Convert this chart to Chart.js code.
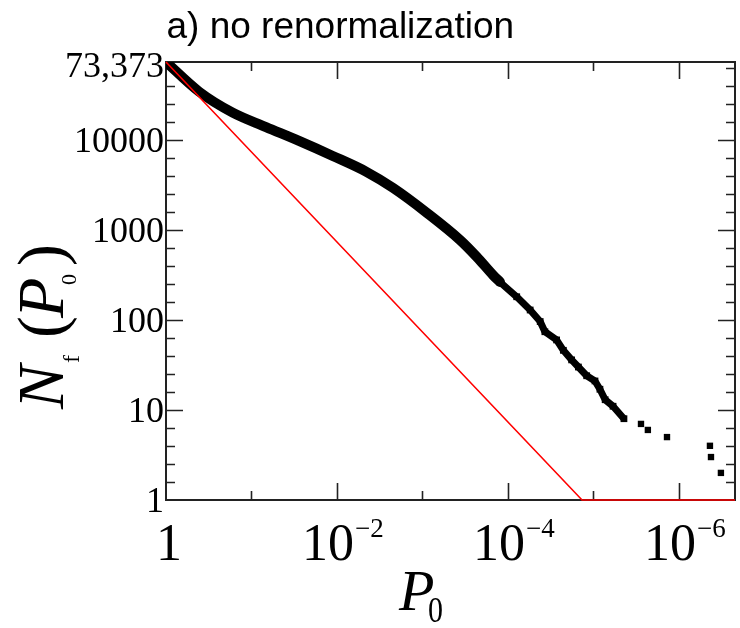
<!DOCTYPE html>
<html>
<head>
<meta charset="utf-8">
<title>N_f(P_0) - no renormalization</title>
<script src="https://cdn.jsdelivr.net/npm/chart.js@4.4.1/dist/chart.umd.min.js"></script>
<style>
  html, body { margin: 0; padding: 0; background: #fff; }
  #wrap { width: 740px; height: 628px; }
</style>
</head>
<body>
<div id="wrap"><canvas id="nfChart" width="740" height="628"></canvas></div>
<script>
// values
const titleText = 'a) no renormalization';

// dense part of the distribution (thick band)
const p0Dense = [1, 0.411, 0.166, 0.0676, 0.0278, 0.0112, 0.00458, 0.00221, 8.85e-4, 3.64e-4, 2.31e-4, 1.50e-4, 1.24e-4];
const nfDense = [73373, 34400, 20100, 13900, 9750, 6640, 4450, 2930, 1545, 774, 501, 316, 264];

// steeper, jagged part
const p0Steep = [1.24e-4, 7.9e-5, 5.5e-5, 4.2e-5, 3.7e-5, 2.7e-5, 2.25e-5, 1.8e-5, 1.5e-5, 1.2e-5, 9.6e-6, 8.4e-6, 7.3e-6, 5.9e-6, 4.4e-6];
const nfSteep = [264, 181, 129, 96, 74, 60, 46, 36, 30, 24, 21, 17, 13, 11, 8];

// isolated points in the tail
const p0Tail = [2.78e-6, 2.31e-6, 1.38e-6, 4.34e-7, 4.22e-7, 3.23e-7];
const nfTail = [7, 6, 5, 4, 3, 2];

// red reference line
const p0Ref = [1, 1.36e-5, 2.21e-7];
const nfRef = [73373, 1, 1];

// axes
const xMin = 2.21e-7, xMax = 1;
const yMin = 1, yMax = 73373;
const xLabelValues = [1, 1e-2, 1e-4, 1e-6];
const xLabelExp = ['', '\u22122', '\u22124', '\u22126'];
const xMajorTicks = [1e-2, 1e-4, 1e-6];
const xMinorTicks = [1e-1, 1e-3, 1e-5];
const yLabelValues = [1, 10, 100, 1000, 10000, 73373];
const yLabelText = ['1', '10', '100', '1000', '10000', '73,373'];
const yMajorTicks = [10, 100, 1000, 10000];

function pts(xs, ys) {
    return xs.map((v, i) => ({ x: v, y: ys[i] }));
}

function yMinorTicks() {
    const out = [];
    for (let d = 0; d <= 4; d++) {
        for (let m = 1; m <= 4; m++) {
            const v = Math.pow(10, d + 0.2 * m);
            if (v < yMax) out.push(v);
        }
    }
    return out;
}

const frameAndText = {
    id: 'frameAndText',
    beforeDatasetsDraw(chart) {
        const { ctx, chartArea: a, scales: { x, y } } = chart;
        ctx.save();
        ctx.strokeStyle = '#222';
        ctx.lineWidth = 2;
        ctx.strokeRect(a.left, a.top, a.right - a.left, a.bottom - a.top);
        ctx.lineWidth = 1.6;
        ctx.beginPath();
        const vx = (v, len) => {
            const px = Math.round(x.getPixelForValue(v)) + 0.5;
            ctx.moveTo(px, a.bottom); ctx.lineTo(px, a.bottom - len);
            ctx.moveTo(px, a.top); ctx.lineTo(px, a.top + len);
        };
        const vy = (v, len) => {
            const py = Math.round(y.getPixelForValue(v)) + 0.5;
            ctx.moveTo(a.left, py); ctx.lineTo(a.left + len, py);
            ctx.moveTo(a.right, py); ctx.lineTo(a.right - len, py);
        };
        xMajorTicks.forEach(v => vx(v, 17));
        xMinorTicks.forEach(v => vx(v, 9));
        yMajorTicks.forEach(v => vy(v, 17));
        yMinorTicks().forEach(v => vy(v, 9));
        ctx.stroke();
        ctx.restore();
    },
    afterDraw(chart) {
        const { ctx, chartArea: a, scales: { x, y } } = chart;
        ctx.save();
        ctx.fillStyle = '#000';
        ctx.textBaseline = 'alphabetic';

        // title
        ctx.font = '37px "Liberation Sans"';
        ctx.textAlign = 'left';
        ctx.fillText(titleText, a.left + 0.5, 38);

        // y tick labels
        ctx.font = '36px "Liberation Serif"';
        ctx.textAlign = 'right';
        yLabelValues.forEach((v, i) => {
            const py = y.getPixelForValue(v);
            ctx.fillText(yLabelText[i], a.left - 2, Math.max(py + 12, a.top + 15));
        });

        // x tick labels
        xLabelValues.forEach((v, i) => {
            const px = x.getPixelForValue(v);
            ctx.font = '52px "Liberation Serif"';
            if (!xLabelExp[i]) {
                ctx.textAlign = 'center';
                ctx.fillText('1', px + 3, 560);
            } else {
                ctx.textAlign = 'right';
                ctx.fillText('10', px + 17, 560);
                ctx.font = '27px "Liberation Serif"';
                ctx.textAlign = 'left';
                ctx.fillText(xLabelExp[i], px + 18, 537);
            }
        });

        // x axis title: P_0
        ctx.textAlign = 'left';
        ctx.font = 'italic 58px "Liberation Serif"';
        ctx.fillText('P', 399, 610);
        ctx.save();
        ctx.translate(428, 622);
        ctx.scale(1, 1.2);
        ctx.font = '30px "Liberation Serif"';
        ctx.fillText('0', 0, 0);
        ctx.restore();

        // y axis title: N_f (P_0)
        ctx.save();
        ctx.translate(63, 409);
        ctx.rotate(-Math.PI / 2);
        ctx.font = 'italic 66px "Liberation Serif"';
        ctx.fillText('N', 0, 0);
        ctx.font = '24px "Liberation Serif"';
        ctx.fillText('f', 46, 16);
        ctx.font = '66px "Liberation Serif"';
        ctx.fillText('(', 71, 0);
        ctx.font = 'italic 66px "Liberation Serif"';
        ctx.fillText('P', 91, 0);
        ctx.font = '22px "Liberation Serif"';
        ctx.fillText('0', 124, 13);
        ctx.font = '66px "Liberation Serif"';
        ctx.fillText(')', 143, 0);
        ctx.restore();

        ctx.restore();
    }
};

const ctx = document.getElementById('nfChart').getContext('2d');
new Chart(ctx, {
    type: 'scatter',
    data: {
        datasets: [
            {
                label: 'reference',
                data: pts(p0Ref, nfRef),
                showLine: true,
                borderColor: '#ff0000',
                borderWidth: 1.6,
                pointRadius: 0,
                clip: false
            },
            {
                label: 'dense',
                data: pts(p0Dense, nfDense),
                showLine: true,
                cubicInterpolationMode: 'monotone',
                borderColor: '#000',
                backgroundColor: '#000',
                borderWidth: 10,
                borderJoinStyle: 'round',
                borderCapStyle: 'round',
                pointRadius: 0
            },
            {
                label: 'steep',
                data: pts(p0Steep, nfSteep),
                showLine: true,
                borderColor: '#000',
                backgroundColor: '#000',
                borderWidth: 7,
                borderJoinStyle: 'round',
                pointStyle: 'rect',
                pointRadius: 4.8,
                pointBorderWidth: 0
            },
            {
                label: 'tail',
                data: pts(p0Tail, nfTail),
                showLine: false,
                borderColor: '#000',
                backgroundColor: '#000',
                pointStyle: 'rect',
                pointRadius: 4.5,
                pointBorderWidth: 0
            }
        ]
    },
    options: {
        responsive: false,
        animation: false,
        layout: {
            padding: { left: 166, top: 62, right: 5, bottom: 128 }
        },
        scales: {
            x: {
                type: 'logarithmic',
                reverse: true,
                min: xMin,
                max: xMax,
                display: false
            },
            y: {
                type: 'logarithmic',
                min: yMin,
                max: yMax,
                display: false
            }
        },
        plugins: {
            legend: { display: false },
            tooltip: { enabled: false },
            title: { display: false }
        }
    },
    plugins: [frameAndText]
});
</script>
</body>
</html>
